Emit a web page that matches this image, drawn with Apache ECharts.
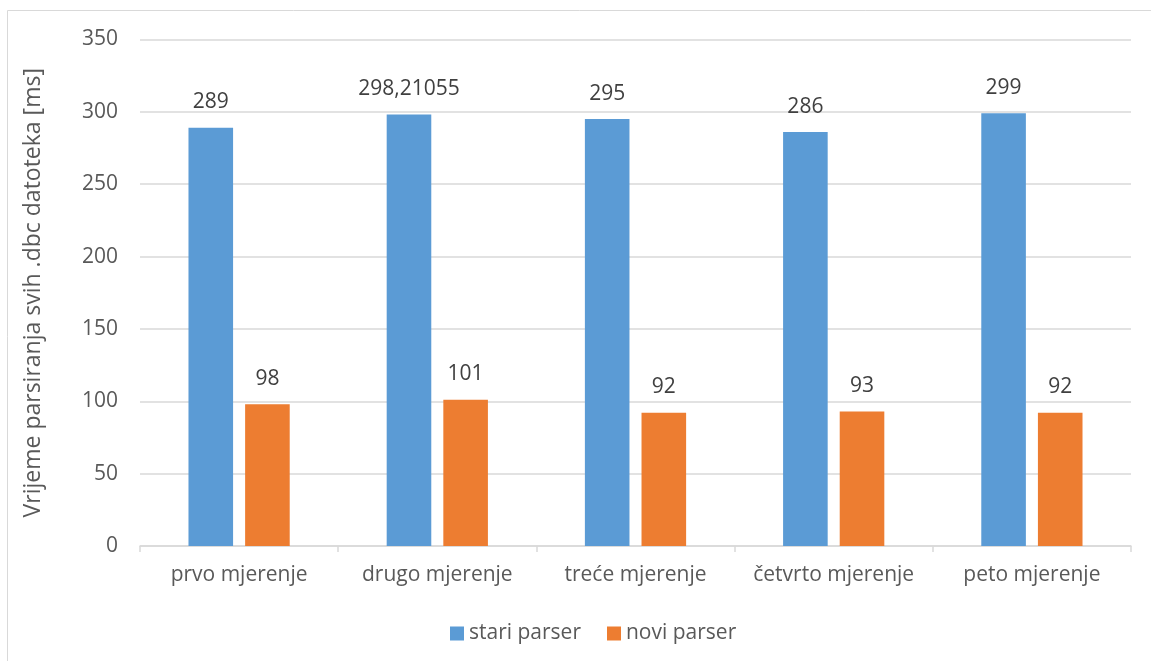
<!DOCTYPE html>
<html><head><meta charset="utf-8">
<script src="https://cdn.jsdelivr.net/npm/echarts@6/dist/echarts.min.js"></script>
<style>html,body{margin:0;padding:0;background:#fff}#c{width:1151px;height:661px}</style>
</head><body><div id="c"></div>
<script>
const categories = ['prvo mjerenje','drugo mjerenje','treće mjerenje','četvrto mjerenje','peto mjerenje'];
const stariParser = [289, 298.21055, 295, 286, 299];
const noviParser = [98, 101, 92, 93, 92];
const seriesNames = ['stari parser','novi parser'];
const yAxisName = 'Vrijeme parsiranja svih .dbc datoteka [ms]';

const font = '"Open Sans", "Liberation Sans", sans-serif';
const chart = echarts.init(document.getElementById('c'));
const lbl = {show:true, position:'top', distance:15, color:'#404040', fontSize:21, fontFamily:font,
  formatter: p => String(p.value).replace('.', ',')};
chart.setOption({
  animation:false,
  graphic:[{type:'rect', shape:{x:7.5,y:10.5,width:1200,height:700}, style:{fill:'none', stroke:'#d9d9d9', lineWidth:1}, silent:true}],
  grid:{left:140, right:20, top:39.5, bottom:115},
  legend:{top:618, left:445, itemWidth:14, itemHeight:14, itemGap:26, icon:'rect',
    textStyle:{color:'#595959', fontSize:21, fontFamily:font}},
  xAxis:{type:'category', data:categories,
    axisLine:{lineStyle:{color:'#d9d9d9', width:1.5}},
    axisTick:{show:true, length:6, interval:0, lineStyle:{color:'#d9d9d9', width:1.5}},
    axisLabel:{color:'#595959', fontSize:21, fontFamily:font, margin:19, interval:0}},
  yAxis:{type:'value', min:0, max:350, interval:50,
    name:yAxisName, nameLocation:'middle', nameGap:95,
    nameTextStyle:{color:'#595959', fontSize:23, fontFamily:font},
    axisLine:{show:false}, axisTick:{show:false},
    splitLine:{lineStyle:{color:'#d9d9d9', width:1.5}},
    axisLabel:{color:'#595959', fontSize:21, fontFamily:font, margin:22}},
  series:[
    {name:seriesNames[0], type:'bar', data:stariParser, barWidth:'22.5%', barGap:'27%',
     itemStyle:{color:'#5b9bd5'}, label:lbl},
    {name:seriesNames[1], type:'bar', data:noviParser, barWidth:'22.5%',
     itemStyle:{color:'#ed7d31'}, label:lbl}
  ]
});
</script></body></html>
